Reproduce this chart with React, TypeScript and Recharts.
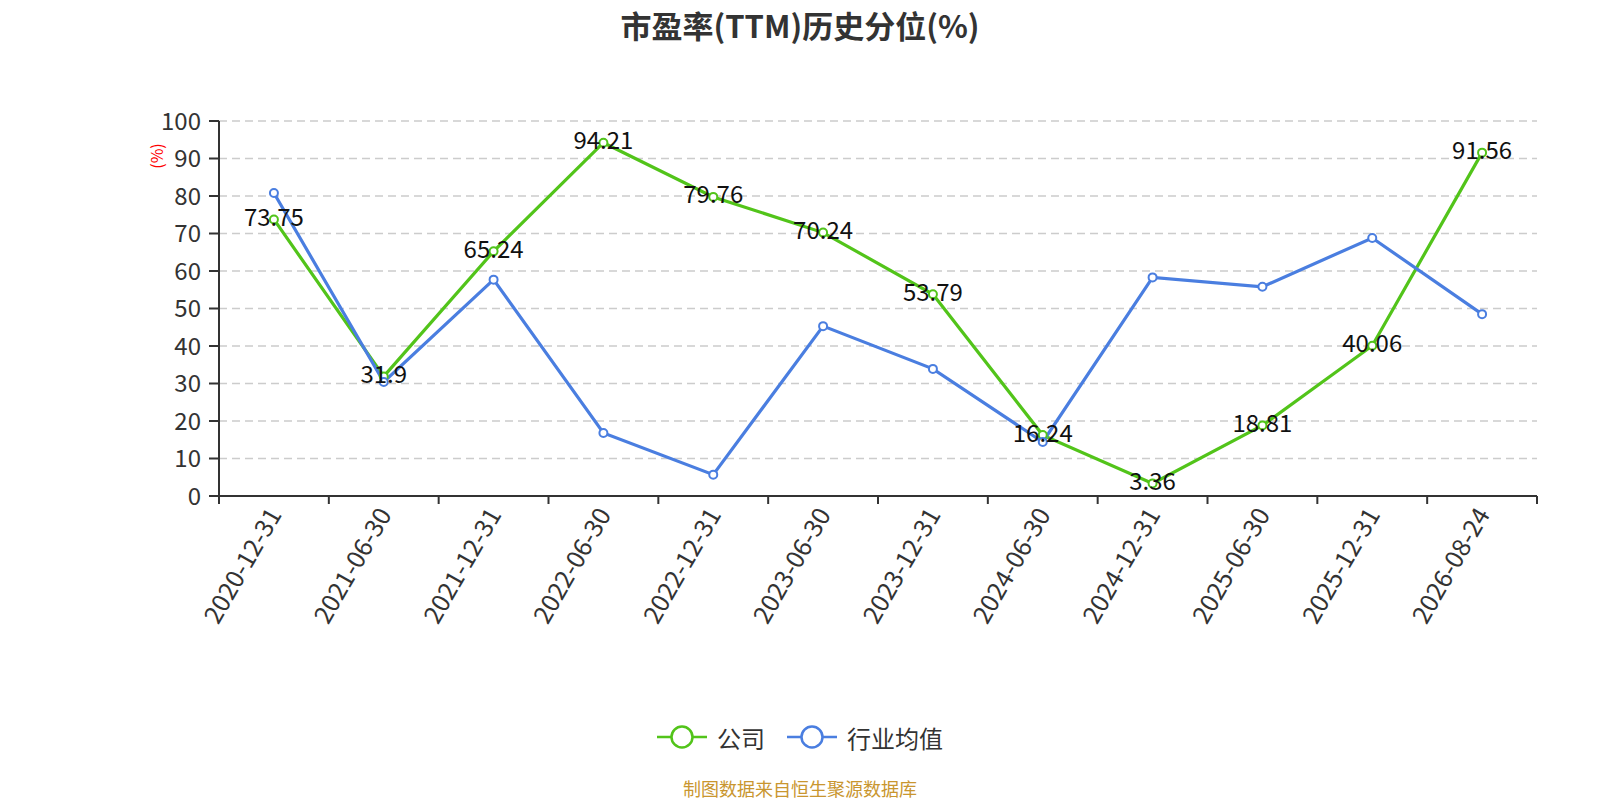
import { LineChart, Line, XAxis, YAxis, CartesianGrid, Legend, LabelList } from 'recharts';

const dates = [
  '2020-12-31', '2021-06-30', '2021-12-31', '2022-06-30', '2022-12-31', '2023-06-30',
  '2023-12-31', '2024-06-30', '2024-12-31', '2025-06-30', '2025-12-31', '2026-08-24',
];
const company = [73.75, 31.9, 65.24, 94.21, 79.76, 70.24, 53.79, 16.24, 3.36, 18.81, 40.06, 91.56];
const industry = [80.8, 30.4, 57.7, 16.8, 5.7, 45.3, 33.9, 14.4, 58.3, 55.8, 68.8, 48.5];
const yTicks = [0, 10, 20, 30, 40, 50, 60, 70, 80, 90, 100];

const series = [
  { key: 'company', name: '公司', color: '#52c41a' },
  { key: 'industry', name: '行业均值', color: '#4a7ee0' },
];

const data = dates.map((d, i) => ({ date: d, company: company[i], industry: industry[i] }));

const FONT = '"Noto Sans CJK SC", "Noto Sans", sans-serif';
// half of one category band (plot width 1318 / 12)
const HALF_BAND = 1318 / 24;
const X_TICK = 8;
const X_MARGIN = 2;

// label at the band centre, tick marks on the band edges
const DateTick = (props: any) => {
  const { x, y, payload, index } = props;
  const axisY = y - X_TICK - X_MARGIN;
  const ty = y + 4;
  const last = index === dates.length - 1;
  return (
    <g>
      <line x1={x - HALF_BAND} y1={axisY} x2={x - HALF_BAND} y2={axisY + X_TICK} stroke="#333" strokeWidth={2} />
      {last && (
        <line x1={x + HALF_BAND} y1={axisY} x2={x + HALF_BAND} y2={axisY + X_TICK} stroke="#333" strokeWidth={2} />
      )}
      <text
        x={x + 1}
        y={ty}
        dy="0.35em"
        textAnchor="end"
        transform={`rotate(-60, ${x + 1}, ${ty})`}
        fontSize={25}
        fill="#333"
        fontFamily={FONT}
      >
        {payload.value}
      </text>
    </g>
  );
};

const ValueLabel = (props: any) => {
  const { x, y, value } = props;
  return (
    <text x={x} y={y - 2} dy="0.35em" textAnchor="middle" fontSize={24} fill="#111" fontFamily={FONT}>
      {value}
    </text>
  );
};

const PercentLabel = (props: any) => {
  const { viewBox } = props;
  const cx = viewBox.x + viewBox.width - 62;
  const cy = viewBox.y + 35;
  return (
    <text x={cx} y={cy} dy="0.35em" textAnchor="middle" transform={`rotate(-90, ${cx}, ${cy})`}
      fontSize={16} fill="#ff0000" fontFamily={FONT}>
      (%)
    </text>
  );
};

const LegendContent = () => (
  <div style={{ height: 40, display: 'flex', justifyContent: 'center', alignItems: 'center', fontFamily: FONT }}>
    {series.map((s) => (
      <div key={s.key} style={{ display: 'flex', alignItems: 'center', margin: '0 11px' }}>
        <svg width={50} height={26}>
          <line x1={0} y1={13} x2={50} y2={13} stroke={s.color} strokeWidth={2.5} />
          <circle cx={25} cy={13} r={10.5} fill="#fff" stroke={s.color} strokeWidth={2.5} />
        </svg>
        <span style={{ fontSize: 24, color: '#333', marginLeft: 10 }}>{s.name}</span>
      </div>
    ))}
  </div>
);

export default function App() {
  return (
    <div style={{ position: 'absolute', left: 0, top: 0, width: 1600, height: 800, background: '#fff' }}>
      <div style={{ position: 'absolute', left: 0, top: 3, width: 1600, textAlign: 'center', fontFamily: FONT,
        fontSize: 31, fontWeight: 'bold', color: '#333', lineHeight: '44px' }}>
        市盈率(TTM)历史分位(%)
      </div>
      <LineChart width={1600} height={800} data={data} margin={{ top: 121, right: 63, left: 0, bottom: 43 }}>
        <CartesianGrid vertical={false} stroke="#ccc" strokeWidth={1.5} strokeDasharray="8 5" />
        <XAxis dataKey="date" type="category" height={221} stroke="#333" strokeWidth={2} tickLine={false}
          padding={{ left: HALF_BAND, right: HALF_BAND }} tickSize={X_TICK} tickMargin={X_MARGIN}
          tick={<DateTick />} interval={0} />
        <YAxis type="number" domain={[0, 100]} ticks={yTicks} width={219} tickSize={10} tickMargin={8}
          stroke="#333" strokeWidth={2} interval={0}
          tick={{ fontSize: 24, fill: '#333', fontFamily: FONT }}
          label={<PercentLabel />} />
        <Legend verticalAlign="bottom" content={<LegendContent />} wrapperStyle={{ left: 0, width: 1600 }} />
        <Line type="linear" dataKey="company" name="公司" stroke="#52c41a" strokeWidth={3.2}
          dot={{ r: 4, fill: '#fff', stroke: '#52c41a', strokeWidth: 2 }} isAnimationActive={false}>
          <LabelList dataKey="company" content={<ValueLabel />} />
        </Line>
        <Line type="linear" dataKey="industry" name="行业均值" stroke="#4a7ee0" strokeWidth={3.2}
          dot={{ r: 4, fill: '#fff', stroke: '#4a7ee0', strokeWidth: 2 }} isAnimationActive={false} />
      </LineChart>
      <div style={{ position: 'absolute', left: 0, top: 776, width: 1600, textAlign: 'center', fontFamily: FONT,
        fontSize: 18, color: '#c9962f', lineHeight: '24px' }}>
        制图数据来自恒生聚源数据库
      </div>
    </div>
  );
}
